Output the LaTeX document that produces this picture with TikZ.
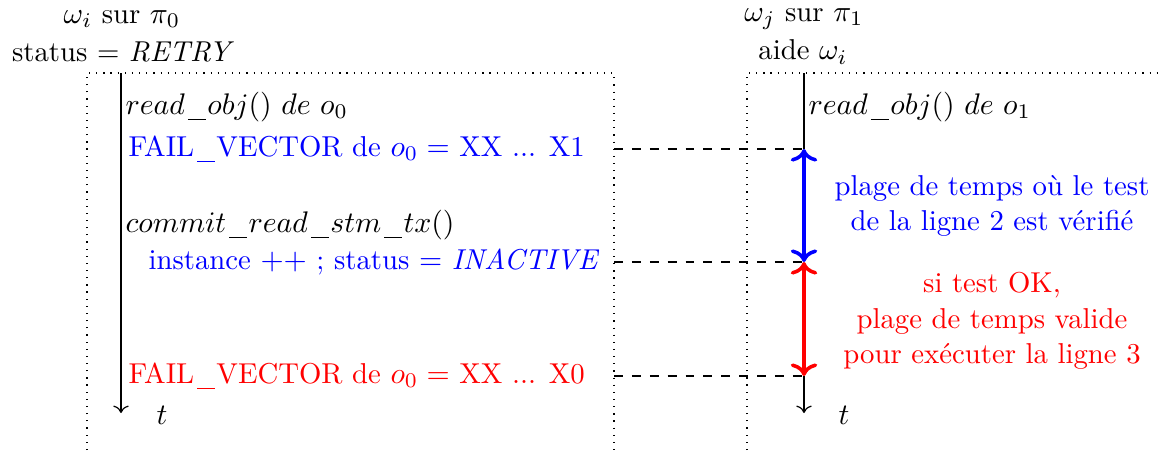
\documentclass[tikz,border=0pt]{standalone}
\usetikzlibrary{arrows.meta}
\newcommand\usc{\mbox{\kern1pt\rule[-1.8pt]{5.9pt}{0.4pt}\kern0.6pt}}
\begin{document}
\begin{tikzpicture}[x=0.3356pt,y=-0.3356pt,
  font=\fontsize{9.65}{12}\selectfont,
  lbl/.style={anchor=mid west, inner sep=0pt},
  hdr/.style={align=center, inner sep=0pt},
  box/.style={dotted},
  guide/.style={dashed},
  timeline/.style={->},
  span/.style={{To}-{To}, very thick}]
\useasboundingbox (0,0) rectangle (1159,450);
% dotted frames
\draw[box] (87,450) -- (87,73) -- (614,73) -- (614,450);
\draw[box] (747,450) -- (747,73) -- (1159,73);
% headers
\node[hdr] (h1) at (122,19) {$\omega_i$ sur $\pi_0$};
\node[hdr] (h2) at (123,52) {status = \textit{RETRY}};
\node[hdr] (h3) at (804,19) {$\omega_j$ sur $\pi_1$};
\node[hdr] (h4) at (803,52) {aide $\omega_i$};
% timeline coordinates
\coordinate (l0) at (121,73);
\coordinate (l1) at (121,413);
\coordinate (r0) at (804,73);
\coordinate (r1) at (804,149);
\coordinate (r2) at (804,262);
\coordinate (r3) at (804,376);
\coordinate (r4) at (804,413);
\draw[timeline] (l0) -- (l1);
\draw (r0) -- (r1);
\draw[timeline] (r3) -- (r4);
\node[lbl] (tl) at (156,418) {$t$};
\node[lbl] (tr) at (838,418) {$t$};
% left texts
\node[lbl] (a1) at (125,108) {$read\usc obj()\ de\ o_0$};
\node[lbl, blue] (a2) at (128,150) {FAIL\usc VECTOR de $o_0 =$ XX ... X1};
\node[lbl] (a3) at (125,226) {$commit\usc read\usc stm\usc tx()$};
\node[lbl, blue] (a4) at (148,263) {instance $++$ ; status $=$ \textit{INACTIVE}};
\node[lbl, red] (a5) at (128,377) {FAIL\usc VECTOR de $o_0 =$ XX ... X0};
% right texts
\node[lbl] (b1) at (808,108) {$read\usc obj()\ de\ o_1$};
\node[hdr, blue] (b2) at (992,206) {plage de temps où le test\\de la ligne 2 est vérifié};
\node[hdr, red] (b3) at (992,321) {si test OK,\\plage de temps valide\\pour exécuter la ligne 3};
% dashed guides
\coordinate (d1) at (614,149);
\coordinate (d2) at (614,262);
\coordinate (d3) at (614,376);
\draw[guide] (d1) -- (r1);
\draw[guide] (d2) -- (r2);
\draw[guide] (d3) -- (r3);
% spans
\draw[span, blue] (r1) -- (r2);
\draw[span, red] (r2) -- (r3);
\end{tikzpicture}
\end{document}
